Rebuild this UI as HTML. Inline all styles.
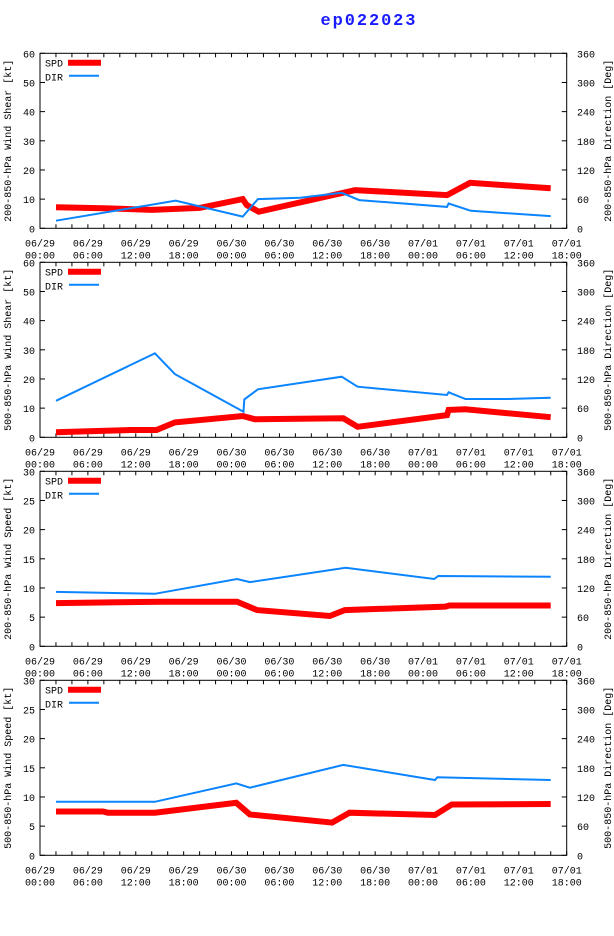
<!DOCTYPE html>
<html><head><meta charset="utf-8"><style>
body{margin:0;background:#fff;}
svg{display:block;font-family:"Liberation Mono",monospace;}
</style></head><body>
<svg id="chart" width="614" height="936" xmlns="http://www.w3.org/2000/svg">
<text x="368" y="25" text-anchor="middle" font-size="17" font-weight="bold" fill="#1a1aff" textLength="95">ep022023</text>
</svg>
<script>
// x-axis tick labels (hours since 06/29 00:00)
const tickDates = ["06/29","06/29","06/29","06/29","06/30","06/30","06/30","06/30","07/01","07/01","07/01","07/01"];
const tickTimes = ["00:00","06:00","12:00","18:00","00:00","06:00","12:00","18:00","00:00","06:00","12:00","18:00"];
const panelTitlesLeft = ["200-850-hPa Wind Shear [kt]","500-850-hPa Wind Shear [kt]","200-850-hPa Wind Speed [kt]","500-850-hPa Wind Speed [kt]"];
const panelTitlesRight = ["200-850-hPa Direction [Deg]","500-850-hPa Direction [Deg]","200-850-hPa Direction [Deg]","500-850-hPa Direction [Deg]"];
const leftMax = [60,60,30,30];
const leftStep = [10,10,5,5];
const spdHours1 = [2,8,14,20,25.4,25.9,27.4,39.5,51,53.9,64];
const spdVals1  = [7.2,6.9,6.3,7,10,8,5.7,13.1,11.4,15.6,13.7];
const dirHours1 = [2,17,25.4,27.3,32.6,37.8,40,51,51.2,54,64];
const dirVals1  = [15.6,56.8,24,60,63,73,58,44,51,36,25];
const spdHours2 = [2,5,11.3,14.6,16.9,25.4,26.9,38,39.8,51,51.2,53.3,64];
const spdVals2  = [1.7,2,2.5,2.5,5.1,7.3,6.2,6.5,3.6,7.6,9.4,9.6,6.9];
const dirHours2 = [2,14.4,16.9,25.5,25.6,27.3,37.8,39.8,51,51.2,53.3,58.5,64];
const dirVals2  = [75,172.8,130,52.7,78,98.7,124.7,104,87,92.6,78.8,78.8,81.5];
const spdHours3 = [2,15.4,24.7,27.2,36.3,38.2,50.8,51.3,64];
const spdVals3  = [7.4,7.65,7.65,6.2,5.2,6.2,6.8,7,7];
const dirHours3 = [2,10.9,14.4,24.7,26.3,38.3,49.4,49.9,64];
const dirVals3  = [112,109,108,138.5,132,161.7,138.5,144.6,143];
const spdHours4 = [2,7.9,8.5,14.4,24.6,26.3,36.6,38.8,49.5,51.6,64];
const spdVals4  = [7.5,7.5,7.3,7.3,9,7,5.6,7.3,6.9,8.7,8.8];
const dirHours4 = [2,14.4,24.6,26.3,38,49.5,49.8,64];
const dirVals4  = [110,110,148,139,186,155,160.6,155];

const spdH=[spdHours1,spdHours2,spdHours3,spdHours4], spdV=[spdVals1,spdVals2,spdVals3,spdVals4];
const dirH=[dirHours1,dirHours2,dirHours3,dirHours4], dirV=[dirVals1,dirVals2,dirVals3,dirVals4];

const svg=document.getElementById('chart');
const NS="http://www.w3.org/2000/svg";
const L=40,R=566.7,H=175;
function mk(tag,attrs,parent){const e=document.createElementNS(NS,tag);for(const k in attrs)e.setAttribute(k,attrs[k]);(parent||svg).appendChild(e);return e;}
const xS=h=>L+(R-L)*h/66;

for(let p=0;p<4;p++){
  const top=53.3+209*p, bot=top+H;
  const g=mk('g',{});
  
  
  const yL=v=>bot-H*v/leftMax[p];
  const yR=v=>bot-H*v/360;
  const frame=mk('rect',{x:L,y:top,width:R-L,height:H,fill:'none',stroke:'#000','stroke-width':1},g);
  
  
  // x ticks
  for(let h=0;h<=66;h+=2){
    const x=xS(h);
    mk('line',{x1:x,y1:bot,x2:x,y2:bot-4,stroke:'#000'},g);
    mk('line',{x1:x,y1:top,x2:x,y2:top+4,stroke:'#000'},g);
  }
  for(let i=0;i<tickDates.length;i++){
    const x=xS(i*6);
    const t1=mk('text',{x:x,y:bot+18,'text-anchor':'middle','font-size':10},g);t1.textContent=tickDates[i];
    
    
    const t2=mk('text',{x:x,y:bot+30,'text-anchor':'middle','font-size':10},g);t2.textContent=tickTimes[i];
    
    
  }
  // left ticks
  for(let v=0;v<=leftMax[p];v+=leftStep[p]){
    const y=yL(v);
    mk('line',{x1:L,y1:y,x2:L+5,y2:y,stroke:'#000'},g);
    const t=mk('text',{x:35,y:y+4,'text-anchor':'end','font-size':10},g);t.textContent=v;
    
    
  }
  for(let v=0;v<=360;v+=60){
    const y=yR(v);
    mk('line',{x1:R,y1:y,x2:R-5,y2:y,stroke:'#000'},g);
    const t=mk('text',{x:577,y:y+4,'font-size':10},g);t.textContent=v;
    
    
  }
  const cy=(top+bot)/2;
  const tl=mk('text',{x:0,y:0,'text-anchor':'middle','font-size':10,transform:`translate(11,${cy}) rotate(-90)`},g);
  tl.textContent=panelTitlesLeft[p];
  
  
  const tr=mk('text',{x:0,y:0,'text-anchor':'middle','font-size':10,transform:`translate(611,${cy}) rotate(-90)`},g);
  tr.textContent=panelTitlesRight[p];
  
  
  // series
  const sp=spdH[p].map((h,i)=>xS(h).toFixed(1)+','+yL(spdV[p][i]).toFixed(1)).join(' ');
  const spl=mk('polyline',{points:sp,fill:'none',stroke:'#ff0000','stroke-width':6,'stroke-linejoin':'miter'},g);
  
  
  const dp=dirH[p].map((h,i)=>xS(h).toFixed(1)+','+yR(dirV[p][i]).toFixed(1)).join(' ');
  const dpl=mk('polyline',{points:dp,fill:'none',stroke:'#0a84ff','stroke-width':2},g);
  
  
  // legend
  const ls=mk('text',{x:45,y:top+13,'font-size':10},g);ls.textContent='SPD';
  
  
  mk('line',{x1:68,y1:top+9.5,x2:101,y2:top+9.5,stroke:'#ff0000','stroke-width':6},g);
  const ld=mk('text',{x:45,y:top+27,'font-size':10},g);ld.textContent='DIR';
  
  
  mk('line',{x1:69,y1:top+22.5,x2:99,y2:top+22.5,stroke:'#0a84ff','stroke-width':2},g);
}
</script>
</body></html>
